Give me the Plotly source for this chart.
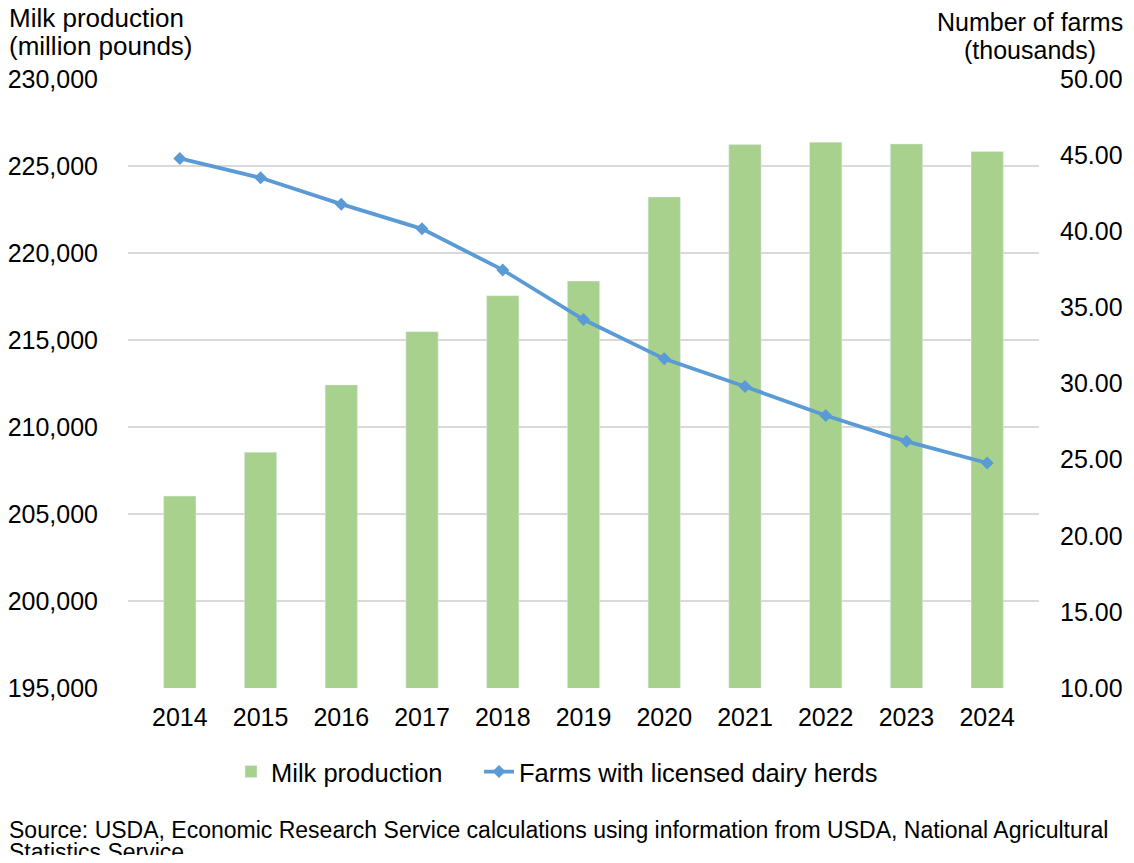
import plotly.graph_objects as go

# values
years = ["2014", "2015", "2016", "2017", "2018", "2019", "2020", "2021", "2022", "2023", "2024"]
milk_production = [206030, 208550, 212420, 215480, 217550, 218390, 223220, 226230, 226370, 226270, 225840]
farms_thousands = [44.78, 43.51, 41.78, 40.16, 37.46, 34.20, 31.62, 29.80, 27.90, 26.20, 24.78]

# the page puts the figure 8px in from each edge; keep it inside the window
OFF = 8
W, H = 1134 - 2 * OFF, 863 - 2 * OFF
# plot area, in page pixels
PL, PR, PT, PB = 128, 1039, 79, 688

def px(x):
    return (x - PL) / (PR - PL)

def py(y):
    return (PB - y) / (PB - PT)

FONT = "Liberation Sans, Arial, sans-serif"
GREEN = "#A9D18E"
BLUE = "#5B9BD5"

fig = go.Figure()

fig.add_trace(go.Bar(
    x=years,
    y=milk_production,
    name="Milk production",
    marker_color=GREEN,
    legend="legend",
))

fig.add_trace(go.Scatter(
    x=years,
    y=farms_thousands,
    name="Farms with licensed dairy herds",
    mode="lines+markers",
    line=dict(color=BLUE, width=3.8),
    marker=dict(symbol="diamond", size=10, color=BLUE),
    yaxis="y2",
    legend="legend2",
))

annotations = [
    dict(text="Milk production", x=px(8), y=py(18), xanchor="left", size=26),
    dict(text="(million pounds)", x=px(8), y=py(46), xanchor="left", size=26),
    dict(text="Number of farms", x=px(1030), y=py(22), xanchor="center", size=25),
    dict(text="(thousands)", x=px(1030), y=py(50), xanchor="center", size=25),
]
annotations = [dict({k: v for k, v in a.items() if k != "size"},
                    xref="paper", yref="paper", showarrow=False, yanchor="middle",
                    borderpad=0, font=dict(size=a["size"], color="#000000", family=FONT))
               for a in annotations]

source_lines = [
    ("Source: USDA, Economic Research Service calculations using information from USDA, National Agricultural", 830),
    ("Statistics Service.", 852),
]
for txt, yy in source_lines:
    annotations.append(dict(
        text=txt, x=px(8), y=py(yy), xref="paper", yref="paper",
        showarrow=False, xanchor="left", yanchor="middle", borderpad=0,
        font=dict(size=23, color="#000000", family=FONT),
    ))

fig.update_layout(
    width=W,
    height=H,
    margin=dict(l=PL - OFF, r=W - (PR - OFF), t=PT - OFF, b=H - (PB - OFF), pad=0),
    paper_bgcolor="white",
    plot_bgcolor="white",
    font=dict(family=FONT, size=25, color="#000000"),
    bargap=0.6,
    showlegend=True,
    legend=dict(
        orientation="h", x=px(231), y=py(772), xanchor="left", yanchor="middle",
        font=dict(size=25.5), itemwidth=30, bgcolor="rgba(0,0,0,0)",
    ),
    legend2=dict(
        orientation="h", x=px(479), y=py(772), xanchor="left", yanchor="middle",
        font=dict(size=25.5), itemwidth=30, bgcolor="rgba(0,0,0,0)",
    ),
    xaxis=dict(
        showgrid=False, showline=False, zeroline=False, automargin=False,
        ticks="", ticklabelstandoff=12,
        tickfont=dict(size=25),
    ),
    yaxis=dict(
        range=[195000, 230000], dtick=5000, tickformat=",",
        showgrid=True, gridcolor="#D9D9D9", gridwidth=1.5,
        zeroline=False, showline=False, ticks="", automargin=False,
        ticklabelstandoff=29, tickfont=dict(size=25),
    ),
    yaxis2=dict(
        range=[10, 50], dtick=5, tickformat=".2f",
        overlaying="y", side="right", automargin=False,
        showgrid=False, zeroline=False, showline=False, ticks="",
        ticklabelstandoff=20, tickfont=dict(size=25),
    ),
    annotations=annotations,
)

fig.write_html("out.html")
